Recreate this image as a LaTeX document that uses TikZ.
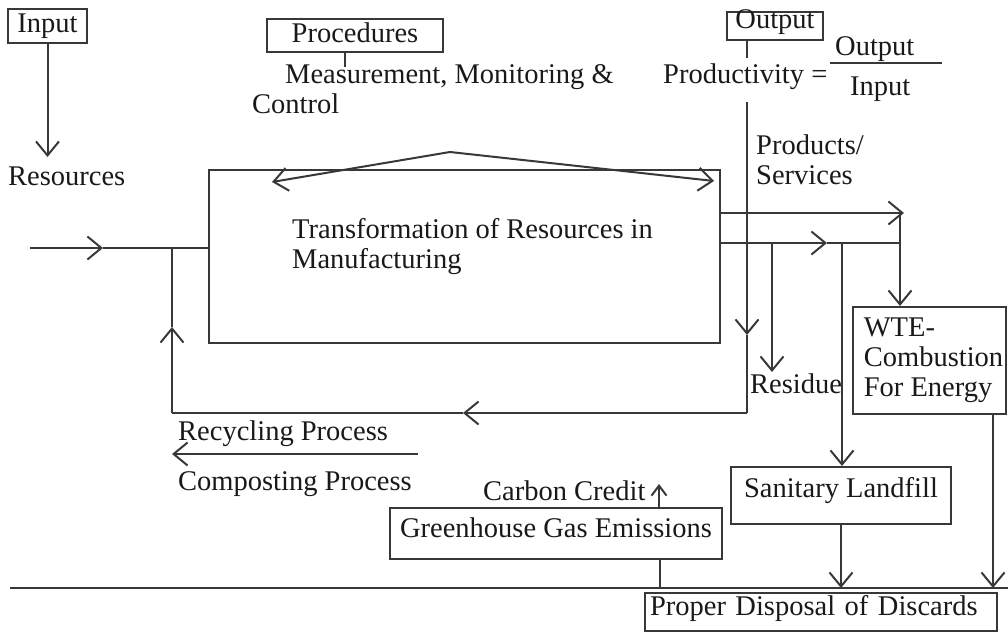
\documentclass[tikz,border=0pt]{standalone}
\usepackage{fontspec}
\setmainfont{Liberation Serif}
\usetikzlibrary{arrows.meta}
\begin{document}
\begin{tikzpicture}[x=1pt,y=-1pt,
  font=\fontsize{28.5}{30}\selectfont,
  every node/.append style={text=black!90},
  ln/.style={line width=2pt, draw=black!78},
  >={Straight Barb[length=14pt,width=23pt]},
  box/.style={ln, rectangle, inner sep=0pt},
  lbl/.style={anchor=base west, inner sep=0pt},
  blk/.style={anchor=north west, inner sep=0pt, align=left},
]
\useasboundingbox (0,0) rectangle (1008,632);

% boxes
\node[box, minimum width=79pt, minimum height=34pt, text height=20pt, text depth=8pt] (inbox) at (47.5,26) {Input};
\node[box, minimum width=176pt, minimum height=33pt, text height=20pt, text depth=7pt] (proc) at (355,35.5) {Procedures};
\node[box, minimum width=96pt, minimum height=28pt, text height=14pt, text depth=10pt] (outbox) at (775,26) {Output};
\node[box, minimum width=511pt, minimum height=173pt] (trans) at (464.5,256.5) {};
\node[box, minimum width=153pt, minimum height=107pt, align=left, xshift=0pt] (wte) at (929.5,360.5) {\hspace*{8pt}WTE-\\\hspace*{8pt}Combustion\\\hspace*{8pt}For Energy};
\node[box, minimum width=220pt, minimum height=57pt, text height=20pt, text depth=17pt] (land) at (841,495.5) {Sanitary Landfill};
\node[box, minimum width=332pt, minimum height=51pt, text height=20pt, text depth=13pt] (ghg) at (556,533.5) {Greenhouse Gas Emissions};
\node[box, minimum width=352pt, minimum height=38pt, text height=20pt, text depth=14pt, text width=342pt, align=left] (disp) at (821,612) {Proper Disposal of Discards};

% texts
\node[lbl] (res) at (8,185) {Resources};
\node[lbl] (meas) at (285,83) {Measurement, Monitoring \&};
\node[lbl] (ctrl) at (252,113) {Control};
\node[lbl] (prod) at (663,83) {Productivity =};
\node[lbl] (fnum) at (835,55) {Output};
\node[lbl] (fden) at (850,95) {Input};
\node[blk] (transtxt) at (292,218.5) {Transformation of Resources in\\Manufacturing};
\node[blk] (prodsv) at (756,134.5) {Products/\\Services};
\node[lbl] (resid) at (750,393) {Residue};
\node[lbl] (cc) at (483,500) {Carbon Credit};
\node[lbl] (recyc) at (178,440) {Recycling Process};
\node[lbl] (comp) at (178,490) {Composting Process};

% coordinates
\coordinate (inTip) at (47.5,157);
\coordinate (pt) at (345,67);
\coordinate (ot) at (747,58);
\coordinate (fbl) at (830,63);
\coordinate (fbr) at (942,63);
\coordinate (arcL) at (272,182);
\coordinate (arcP) at (450,152);
\coordinate (arcR) at (714,181);
\coordinate (inS) at (30,248);
\coordinate (inM) at (103,248);
\coordinate (J1) at (172,248);
\coordinate (BL) at (172,413);
\coordinate (upM) at (172,327);
\coordinate (BR) at (747,413);
\coordinate (lfM) at (463,413);
\coordinate (vT) at (747,102);
\coordinate (vM) at (747,335);
\coordinate (uy) at (904,213);
\coordinate (wx) at (900,213);
\coordinate (lM) at (827,243);
\coordinate (lE) at (900,243);
\coordinate (rT) at (772,243);
\coordinate (rB) at (772,372);
\coordinate (lfT) at (842,243);
\coordinate (wd) at (993,588);
\coordinate (bot) at (0,588);
\coordinate (cu) at (659,484);
\coordinate (gd) at (660,588);
\coordinate (bL) at (10,588);
\coordinate (bR) at (1008,588);
\coordinate (raS) at (418,454);
\coordinate (raE) at (172,454);

% connectors
\draw[ln,->] (inbox.south) -- (inTip);
\draw[ln] (pt |- proc.south) -- (pt);
\draw[ln] (ot |- outbox.south) -- (ot);
\draw[ln] (fbl) -- (fbr);
\draw[ln,<->] (arcL) -- (arcP) -- (arcR);
\draw[ln,->] (inS) -- (inM);
\draw[ln] (inM) -- (inM -| trans.west);
\draw[ln,->] (BL) -- (upM);
\draw[ln] (upM) -- (J1);
\draw[ln,->] (BR) -- (lfM);
\draw[ln] (lfM) -- (BL);
\draw[ln,->] (vT) -- (vM);
\draw[ln] (vM) -- (BR);
\draw[ln,->] (uy -| trans.east) -- (uy);
\draw[ln,->] (wx) -- (wx |- wte.north);
\draw[ln,->] (lM -| trans.east) -- (lM);
\draw[ln] (lM) -- (lE);
\draw[ln,->] (rT) -- (rB);
\draw[ln,->] (lfT) -- (lfT |- land.north);
\draw[ln,->] (wd |- wte.south) -- (wd);
\draw[ln,->] (land.south) -- (land.south |- bot);
\draw[ln,-{Straight Barb[length=10pt,width=15pt]}] (cu |- ghg.north) -- (cu);
\draw[ln] (gd |- ghg.south) -- (gd);
\draw[ln] (bL) -- (bR);
\draw[ln,->] (raS) -- (raE);
\end{tikzpicture}
\end{document}
